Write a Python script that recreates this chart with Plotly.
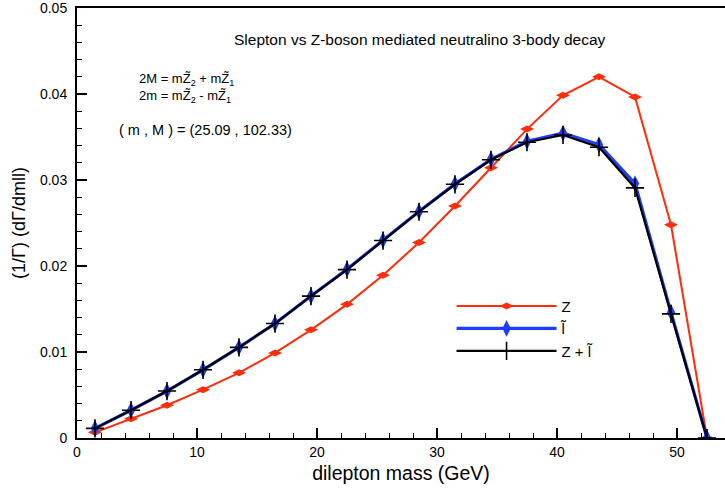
import plotly.graph_objects as go

# ---- data ----
mll = [1.5, 4.5, 7.5, 10.5, 13.5, 16.5, 19.5, 22.5, 25.5, 28.5, 31.5, 34.5,
       37.5, 40.5, 43.5, 46.5, 49.5, 52.5]
z_only = [0.00066, 0.00223, 0.00381, 0.00562, 0.00758, 0.00989, 0.01258, 0.01554,
          0.01892, 0.02273, 0.02697, 0.03142, 0.03592, 0.03985, 0.04200, 0.03966,
          0.02480, 0.0]
slepton = [0.00112, 0.00323, 0.00546, 0.00793, 0.01054, 0.01331, 0.01650, 0.01962,
           0.02300, 0.02635, 0.02955, 0.03240, 0.03450, 0.03546, 0.03410, 0.02958,
           0.01460, 0.0]
total = [0.00112, 0.00323, 0.00546, 0.00793, 0.01054, 0.01331, 0.01650, 0.01958,
         0.02296, 0.02631, 0.02950, 0.03235, 0.03439, 0.03523, 0.03381, 0.02908,
         0.01443, 0.0]

x_ticks = [0, 10, 20, 30, 40, 50]
y_ticks = [0, 0.01, 0.02, 0.03, 0.04, 0.05]
y_tick_labels = ["0", "0.01", "0.02", "0.03", "0.04", "0.05"]

names = ["Z", "l\u0303", "Z + l\u0303"]
title_text = "Slepton vs Z-boson mediated neutralino 3-body decay"
mass_lines = ("2M = mZ\u0303<sub>2</sub> + mZ\u0303<sub>1</sub><br>"
              "2m = mZ\u0303<sub>2</sub> - mZ\u0303<sub>1</sub>")
mass_values = "( m , M ) = (25.09 , 102.33)"

FONT = "Liberation Sans, Arial, Helvetica, sans-serif"

fig = go.Figure()
fig.add_trace(go.Scatter(
    x=mll, y=z_only, name=names[0], mode="lines+markers",
    line=dict(color="#ff2d0a", width=2),
    marker=dict(symbol="diamond-wide", size=10, color="#ff2d0a")))
fig.add_trace(go.Scatter(
    x=mll, y=slepton, name=names[1], mode="lines+markers",
    line=dict(color="#1f3dff", width=3.2),
    marker=dict(symbol="diamond-tall", size=12, color="#1f3dff")))
fig.add_trace(go.Scatter(
    x=mll, y=total, name=names[2], mode="lines+markers",
    line=dict(color="black", width=2.2),
    marker=dict(symbol="cross-thin", size=13, color="black",
                line=dict(color="black", width=1.6))))

fig.add_annotation(x=28.6, y=0.0463, xref="x", yref="y", text=title_text,
                   showarrow=False, font=dict(size=15.5, color="black", family=FONT))
fig.add_annotation(x=5.0, y=0.0407, xref="x", yref="y", text=mass_lines,
                   showarrow=False, xanchor="left", align="left",
                   font=dict(size=13, color="black", family=FONT))
fig.add_annotation(x=3.3, y=0.0358, xref="x", yref="y", text=mass_values,
                   showarrow=False, xanchor="left",
                   font=dict(size=14.5, color="black", family=FONT))

fig.update_layout(
    width=725, height=495,
    margin=dict(l=77, r=0, t=5, b=57),
    paper_bgcolor="white", plot_bgcolor="white",
    font=dict(family=FONT, color="black", size=14),
    showlegend=True,
    legend=dict(x=0.578, y=0.345, xanchor="left", yanchor="top",
                bgcolor="rgba(0,0,0,0)", itemwidth=100,
                font=dict(size=15, family=FONT), tracegroupgap=0),
    xaxis=dict(range=[0, 54], showgrid=False, zeroline=False,
               showline=True, linecolor="black", linewidth=2, mirror=True,
               ticks="inside", ticklen=10, tickwidth=2, tickcolor="black",
               tickmode="array", tickvals=x_ticks,
               minor=dict(ticks="inside", ticklen=5, tickwidth=1,
                          tickcolor="black", dtick=2, tick0=0),
               tickfont=dict(size=14),
               title=dict(text="dilepton mass (GeV)", font=dict(size=19.5),
                          standoff=8)),
    yaxis=dict(range=[0, 0.05], showgrid=False, zeroline=False,
               showline=True, linecolor="black", linewidth=2,
               ticks="inside", ticklen=10, tickwidth=2, tickcolor="black",
               tickmode="array", tickvals=y_ticks, ticktext=y_tick_labels,
               ticklabelstandoff=5, ticklabeloverflow="allow",
               minor=dict(ticks="inside", ticklen=5, tickwidth=1,
                          tickcolor="black", dtick=0.002, tick0=0),
               tickfont=dict(size=14),
               title=dict(text="(1/\u0393) (d\u0393/dmll)", font=dict(size=18),
                          standoff=10)),
)

fig.write_html("out.html")
